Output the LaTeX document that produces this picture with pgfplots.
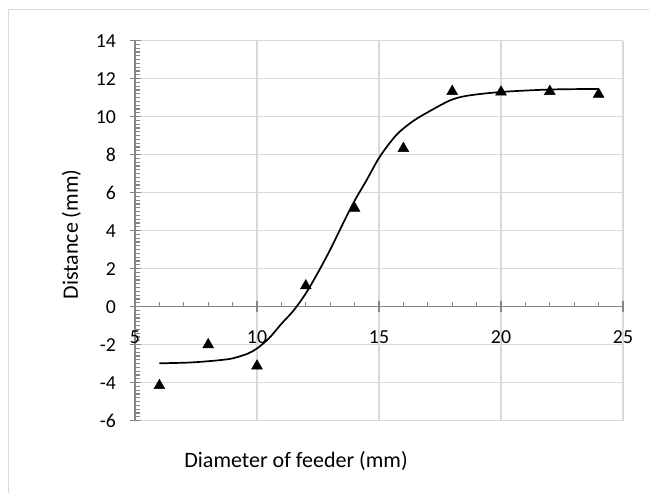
\documentclass[border=0pt]{standalone}
\usepackage{pgfplots}
\pgfplotsset{compat=1.18}
\usepackage{fontspec}
\setmainfont{Carlito}
\definecolor{gridc}{HTML}{D9D9D9}
\definecolor{axc}{HTML}{868686}
\begin{document}
\begin{tikzpicture}[x=1bp,y=1bp]
\path[use as bounding box] (0,0) rectangle (649,493);
\draw[gridc, line width=1.2bp] (8.3,-5) -- (8.3,483.7) -- (660,483.7);
\begin{axis}[
  at={(135bp,72.3bp)}, anchor=south west,
  scale only axis, width=488bp, height=380bp,
  xmin=5, xmax=25, ymin=-6, ymax=14,
  xtick={5,10,15,20,25}, ytick={-6,-4,-2,0,2,4,6,8,10,12,14},
  minor x tick num=4, minor y tick num=9,
  axis x line*=middle, axis y line*=left,
  hide obscured x ticks=false, hide obscured y ticks=false,
  grid=major, major grid style={gridc, line width=1.4bp},
  axis line style={axc, line width=1.4bp},
  tick style={axc, line width=1.2bp},
  tick align=center,
  major tick length=11bp, minor tick length=5bp,
  minor x tick style={yshift=2.5bp}, minor y tick style={xshift=2.5bp},
  /pgf/number format/assume math mode=true,
  ticklabel style={font=\fontsize{19.8bp}{23bp}\selectfont, text=black},
  yticklabel style={anchor=east, xshift=-10bp},
  xticklabel style={anchor=center, yshift=-25bp},
  xlabel={Diameter of feeder (mm)},
  ylabel={Distance (mm)},
  label style={font=\fontsize{22bp}{26bp}\selectfont},
  xlabel style={at={(axis description cs:0.33,-0.105)}, anchor=center},
  ylabel style={at={(axis description cs:-0.1305,0.49)}, anchor=center},
  clip=false,
]
\addplot[smooth, black, line width=1.7bp] coordinates {
  (6,-2.98) (7,-2.95) (7.5,-2.92) (8,-2.87) (8.5,-2.81) (9,-2.72) (9.6,-2.48)
  (10,-2.2) (10.5,-1.65) (11,-0.9) (11.5,-0.2) (12,0.7) (12.5,1.8) (13,3.0)
  (13.4,4.05) (13.95,5.46) (14.5,6.68) (15.04,7.91) (15.72,9.05) (16.41,9.78)
  (17.09,10.3) (17.9,10.85) (18.6,11.1) (20,11.3) (22,11.43) (24,11.46)
};
\addplot[only marks, mark=triangle*, mark size=6.3bp, black] coordinates {
  (6,-4.15) (8,-2.0) (10,-3.12) (12,1.1) (14,5.18) (16,8.33)
  (18,11.33) (20,11.3) (22,11.33) (24,11.18)
};
\end{axis}
\end{tikzpicture}
\end{document}
